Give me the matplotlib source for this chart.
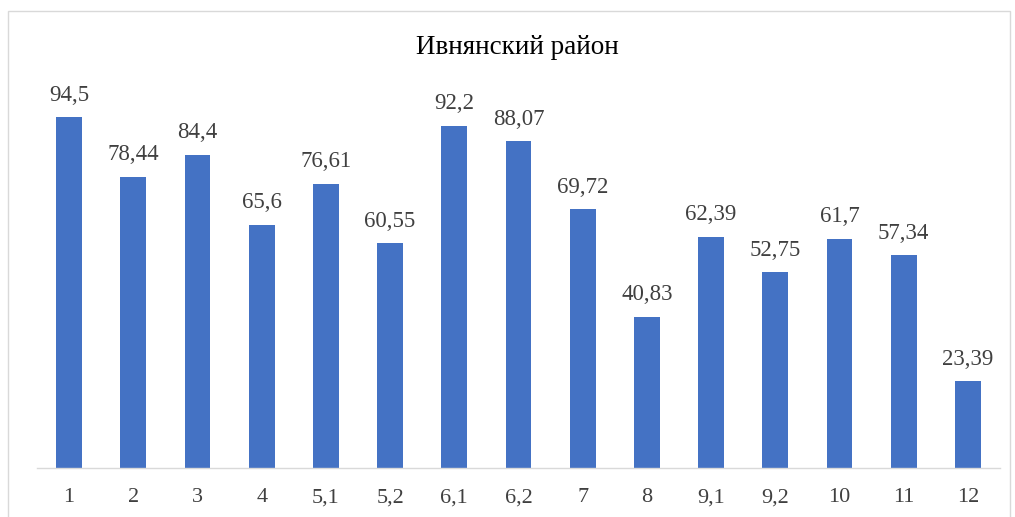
import matplotlib.pyplot as plt
from matplotlib.patches import Rectangle

# -------------------------------------------------
# Data
# -------------------------------------------------

categories = ["1", "2", "3", "4", "5,1", "5,2", "6,1", "6,2",
              "7", "8", "9,1", "9,2", "10", "11", "12"]

values = [94.5, 78.44, 84.4, 65.6, 76.61, 60.55, 92.2, 88.07,
          69.72, 40.83, 62.39, 52.75, 61.7, 57.34, 23.39]

value_labels = ["94,5", "78,44", "84,4", "65,6", "76,61", "60,55", "92,2",
                "88,07", "69,72", "40,83", "62,39", "52,75", "61,7",
                "57,34", "23,39"]

title = "Ивнянский район"

# -------------------------------------------------
# Figure
# -------------------------------------------------

plt.rcParams["font.family"] = ["Liberation Serif", "DejaVu Serif"]

W, H = 1015, 517
fig = plt.figure(figsize=(W / 100, H / 100), dpi=100)

# light frame around the chart
fig.patches.append(Rectangle(
    (8 / W, -0.05), (1010 - 8) / W, 1.05 - 11 / H,
    transform=fig.transFigure, fill=False,
    edgecolor="#d9d9d9", linewidth=1.0
))

# axes: left 37px, right 1000px, baseline at 468px, 100 units = 371px
ax = fig.add_axes([37 / W, (H - 468) / H, (1000 - 37) / W, 371 / H])

x = range(len(categories))

ax.bar(x, values, width=0.40, color="#4472c4")

for xi, v, lab in zip(x, values, value_labels):
    ax.annotate(
        lab, (xi, v),
        xytext=(0, 12), textcoords="offset points",
        ha="center", va="baseline",
        fontsize=16.5, color="#404040"
    )

ax.set_xlim(-0.5, len(categories) - 0.5)
ax.set_ylim(0, 100)

ax.set_xticks(list(x))
ax.set_xticklabels(categories, fontsize=16, color="#404040")
ax.tick_params(axis="x", length=0, pad=14.5)
ax.set_yticks([])

for side in ["top", "right", "left"]:
    ax.spines[side].set_visible(False)
ax.spines["bottom"].set_color("#d9d9d9")
ax.spines["bottom"].set_linewidth(1.0)

fig.text(517 / W, 1 - 48 / H, title, ha="center", va="center",
         fontsize=19.5, color="#000000")

fig.savefig("out.png", dpi=100)
